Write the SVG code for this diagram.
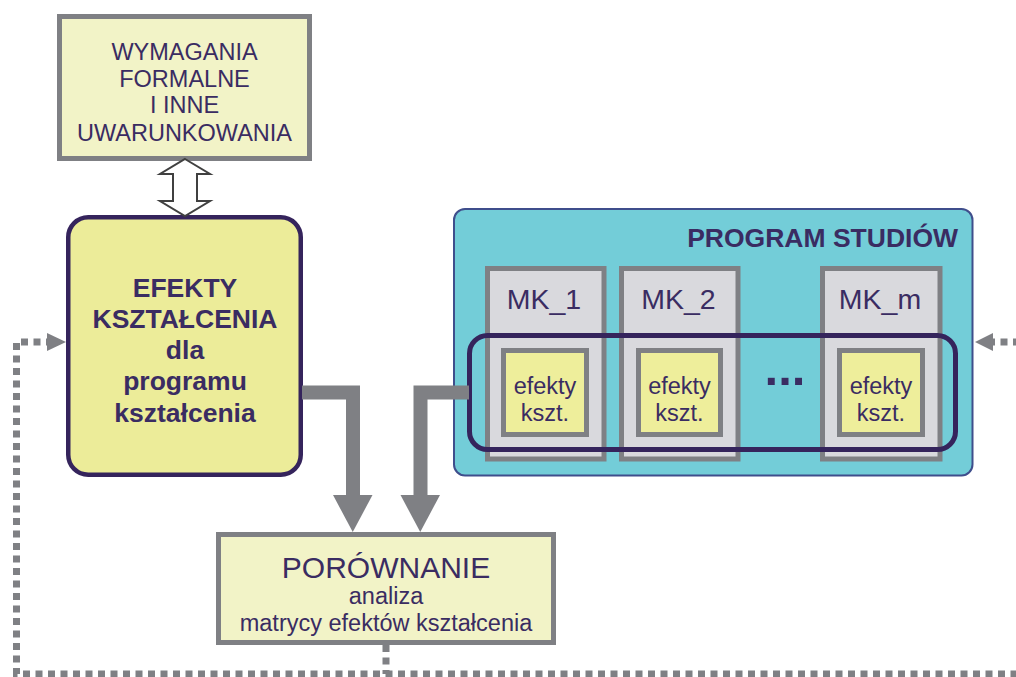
<svg xmlns="http://www.w3.org/2000/svg" width="1016" height="677" viewBox="0 0 1016 677">
  <defs>
    <style>
      text { font-family: "Liberation Sans", Arial, sans-serif; fill: #3a2c62; text-anchor: middle; }
      .bold { font-weight: bold; }
      .note { fill: #f2f3c7; stroke: #7f8084; stroke-width: 5; }
      .col { fill: #d9d9dd; stroke: #7f8084; stroke-width: 5; }
      .cell { fill: #eeee9b; stroke: #7f8084; stroke-width: 5; }
      .flow { fill: none; stroke: #7f8084; stroke-width: 14; stroke-linejoin: miter; stroke-linecap: butt; }
      .head { fill: #7f8084; }
      .loop { fill: none; stroke: #7f8084; stroke-width: 7; stroke-dasharray: 7 5.5; }
    </style>
  </defs>
  <rect width="1016" height="677" fill="#ffffff"/>

  <!-- requirements -->
  <g id="wymagania">
    <rect class="note" x="59.5" y="16.5" width="250" height="142"/>
    <text x="184.5" y="60" font-size="23.5">WYMAGANIA</text>
    <text x="184.5" y="87" font-size="23.5">FORMALNE</text>
    <text x="184.5" y="113" font-size="23.5">I INNE</text>
    <text x="184.5" y="141" font-size="23.5">UWARUNKOWANIA</text>
  </g>

  <!-- learning outcomes of the programme -->
  <g id="efekty">
    <rect x="68.25" y="217.25" width="232.5" height="257.5" rx="20" fill="#ecec99" stroke="#35245c" stroke-width="4.5"/>
    <text class="bold" x="185" y="297" font-size="26.5">EFEKTY</text>
    <text class="bold" x="185" y="328" font-size="26.5">KSZTAŁCENIA</text>
    <text class="bold" x="185" y="359" font-size="26.5">dla</text>
    <text class="bold" x="185" y="390" font-size="26.5">programu</text>
    <text class="bold" x="185" y="422" font-size="26.5">kształcenia</text>
  </g>

  <!-- study programme with modules -->
  <g id="program">
    <rect x="454" y="209" width="518.5" height="266.5" rx="11" fill="#73cdd8" stroke="#3f4e8c" stroke-width="2"/>
    <text class="bold" x="958" y="247" font-size="26.5" style="text-anchor:end">PROGRAM STUDIÓW</text>
  </g>

  <g id="mk1">
    <rect class="col" x="487.5" y="268.5" width="116.5" height="190.5"/>
    <text x="544" y="309" font-size="28.5">MK_1</text>
    <rect class="cell" x="503.5" y="350.5" width="83" height="84"/>
    <text x="545" y="394" font-size="23.5">efekty</text>
    <text x="545" y="421" font-size="23.5">kszt.</text>
  </g>
  <g id="mk2">
    <rect class="col" x="621.5" y="268.5" width="116.5" height="190.5"/>
    <text x="678.5" y="309" font-size="28.5">MK_2</text>
    <rect class="cell" x="638.5" y="350.5" width="82" height="84"/>
    <text x="679.5" y="394" font-size="23.5">efekty</text>
    <text x="679.5" y="421" font-size="23.5">kszt.</text>
  </g>
  <g id="mkm">
    <rect class="col" x="822.5" y="268.5" width="117.5" height="190.5"/>
    <text x="880" y="309" font-size="28.5">MK_m</text>
    <rect class="cell" x="839.5" y="350.5" width="83" height="84"/>
    <text x="881" y="394" font-size="23.5">efekty</text>
    <text x="881" y="421" font-size="23.5">kszt.</text>
  </g>

  <g id="matryca">
    <rect x="469.5" y="335.5" width="486" height="114" rx="18" fill="none" stroke="#35245c" stroke-width="5"/>
    <text class="bold" x="785" y="385" font-size="49">...</text>
  </g>

  <!-- comparison -->
  <g id="porownanie">
    <rect class="note" x="218.5" y="534.5" width="335" height="108"/>
    <text x="386" y="578" font-size="30">PORÓWNANIE</text>
    <text x="386" y="604" font-size="23.5">analiza</text>
    <text x="386" y="631" font-size="23.5">matrycy efektów kształcenia</text>
  </g>

  <!-- connectors -->
  <g id="connectors">
    <polygon points="185,159 210,174 197,174 197,201 210,201 185,216 160,201 173,201 173,174 160,174" fill="#ffffff" stroke="#404040" stroke-width="2" stroke-linejoin="miter"/>

    <path class="flow" d="M 302 392.5 H 353 V 496"/>
    <polygon class="head" points="333,495 372.5,495 352.75,532"/>
    <path class="flow" d="M 469 392.5 H 420.5 V 496"/>
    <polygon class="head" points="400.5,495 440,495 420.25,532"/>

    <path class="loop" d="M 386 645 V 674"/>
    <path class="loop" d="M 1030 674 H 16.5 V 342 H 47"/>
    <polygon class="head" points="47,333 66,342 47,351"/>
    <path class="loop" d="M 1020 342 H 993"/>
    <polygon class="head" points="993,333 975,342 993,351"/>
  </g>
</svg>
